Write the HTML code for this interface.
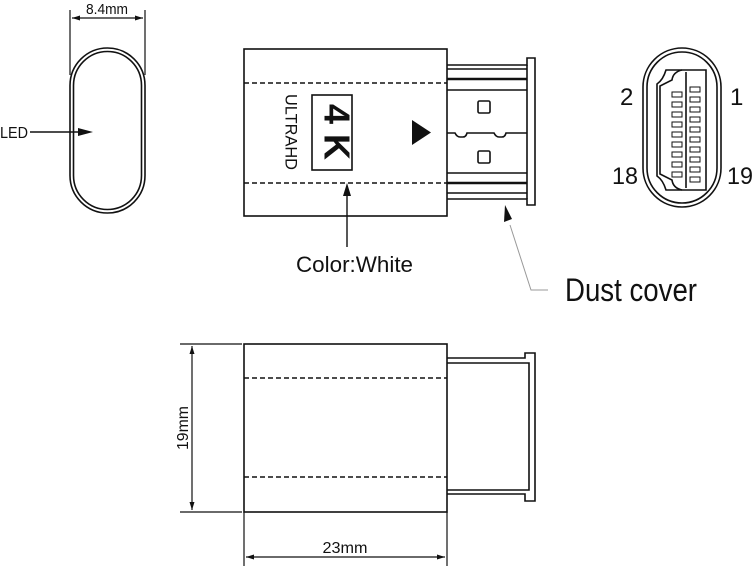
<!DOCTYPE html>
<html><head><meta charset="utf-8"><style>html,body{margin:0;padding:0;background:#fff}svg{display:block}</style></head><body>
<svg width="753" height="568" viewBox="0 0 753 568" xmlns="http://www.w3.org/2000/svg" font-family="'Liberation Sans Narrow','Liberation Sans',sans-serif">
<g fill="none" stroke="#111" stroke-width="1.6">
<!-- left oval -->
<rect x="70" y="48" width="75" height="165" rx="37.5"/>
<rect x="73.5" y="51.5" width="68" height="158" rx="34"/>
<line x1="70" y1="10" x2="70" y2="75" stroke-width="1.2"/>
<line x1="145" y1="10" x2="145" y2="75" stroke-width="1.2"/>
<line x1="72" y1="18" x2="143" y2="18" stroke-width="1.2"/>
<line x1="30" y1="132" x2="80" y2="132" stroke-width="1.4"/>
<!-- top body -->
<rect x="244" y="49" width="203" height="167"/>
<line x1="244" y1="83" x2="447" y2="83" stroke-dasharray="5,3"/>
<line x1="244" y1="183" x2="447" y2="183" stroke-dasharray="5,3"/>
<rect x="312" y="95" width="40" height="75"/>
<path d="M447 65 H527 V58 H535 V205 H527 V199 H447"/>
<line x1="447" y1="69" x2="527" y2="69"/>
<line x1="447" y1="79" x2="527" y2="79" stroke-width="2.6"/>
<line x1="447" y1="90" x2="527" y2="90"/>
<line x1="447" y1="173" x2="527" y2="173"/>
<line x1="447" y1="183" x2="527" y2="183" stroke-width="2.6"/>
<line x1="447" y1="193" x2="527" y2="193"/>
<line x1="527" y1="65" x2="527" y2="199"/>
<path d="M447 133 H455 Q457 137 460 137 H463 Q466 137 467 133 H494 Q496 137 499 137 H502 Q505 137 506 133 H527"/>
<rect x="478" y="101" width="12" height="12" rx="1.5"/>
<rect x="478" y="151" width="12" height="12" rx="1.5"/>
<line x1="347" y1="247" x2="347" y2="190" stroke-width="1.4"/>
<!-- right connector -->
<rect x="643" y="48" width="78" height="159" rx="39"/>
<rect x="647" y="52" width="70" height="151" rx="35"/>
<path d="M666 70 H706 V190 H666 Q663 180 657 176 V84 Q663 80 666 70 Z"/>
<path d="M682 70 Q673 72 672 80 L660 86 V174 L672 180 Q673 188 682 190"/>
<line x1="686" y1="72" x2="686" y2="188"/>
<!-- bottom view -->
<rect x="244" y="344" width="203" height="168"/>
<line x1="244" y1="378" x2="447" y2="378" stroke-dasharray="5,3"/>
<line x1="244" y1="477" x2="447" y2="477" stroke-dasharray="5,3"/>
<path d="M447 358 H525 V353 H535 V501 H525 V494 H447"/>
<path d="M447 363 H529 V490 H447"/>
<line x1="180" y1="344" x2="242" y2="344" stroke-width="1.2"/>
<line x1="180" y1="512" x2="242" y2="512" stroke-width="1.2"/>
<line x1="192" y1="346" x2="192" y2="510" stroke-width="1.2"/>
<line x1="244" y1="512" x2="244" y2="566" stroke-width="1.2"/>
<line x1="447" y1="512" x2="447" y2="566" stroke-width="1.2"/>
<line x1="246" y1="557" x2="445" y2="557" stroke-width="1.2"/>
<polyline points="510,225 531,290 548,290" stroke="#999" stroke-width="1"/>
</g>
<g fill="#111">
<polygon points="72,18 80,15.5 80,20.5"/><polygon points="143,18 135,15.5 135,20.5"/>
<polygon points="93,132 78,128 78,136"/>
<polygon points="347,183 343,196 351,196"/>
<polygon points="412,120 431,132.5 412,145"/>
<polygon points="505,205 504,222 512,219"/>
<polygon points="192,346 189.5,354 194.5,354"/><polygon points="192,510 189.5,502 194.5,502"/>
<polygon points="246,557 254,554.5 254,559.5"/><polygon points="445,557 437,554.5 437,559.5"/>
<!-- pins -->
<g stroke="#111" stroke-width="1" fill="#fff">
<rect x="672" y="92" width="10" height="5"/><rect x="672" y="102" width="10" height="5"/><rect x="672" y="112" width="10" height="5"/><rect x="672" y="122" width="10" height="5"/><rect x="672" y="132" width="10" height="5"/><rect x="672" y="142" width="10" height="5"/><rect x="672" y="152" width="10" height="5"/><rect x="672" y="162" width="10" height="5"/><rect x="672" y="172" width="10" height="5"/>
<rect x="690" y="87" width="10" height="5"/><rect x="690" y="97" width="10" height="5"/><rect x="690" y="107" width="10" height="5"/><rect x="690" y="117" width="10" height="5"/><rect x="690" y="127" width="10" height="5"/><rect x="690" y="137" width="10" height="5"/><rect x="690" y="147" width="10" height="5"/><rect x="690" y="157" width="10" height="5"/><rect x="690" y="167" width="10" height="5"/><rect x="690" y="177" width="10" height="5"/>
</g>
<text x="107" y="14" font-size="15" text-anchor="middle" textLength="42" lengthAdjust="spacingAndGlyphs">8.4mm</text>
<text x="0" y="138" font-size="16" textLength="28" lengthAdjust="spacingAndGlyphs">LED</text>
<text transform="translate(334,132) rotate(90)" font-size="36" font-weight="bold" text-anchor="middle" dominant-baseline="middle" font-family="'Liberation Sans',sans-serif">4 K</text>
<text transform="translate(290,132) rotate(90)" font-size="17" text-anchor="middle" dominant-baseline="middle" textLength="76" lengthAdjust="spacingAndGlyphs">ULTRAHD</text>
<text x="296" y="272" font-size="22" textLength="117" lengthAdjust="spacingAndGlyphs">Color:White</text>
<text x="565" y="301" font-size="32" textLength="132" lengthAdjust="spacingAndGlyphs">Dust cover</text>
<text x="620" y="105" font-size="24">2</text>
<text x="730" y="105" font-size="24">1</text>
<text x="612" y="184" font-size="24" textLength="26" lengthAdjust="spacingAndGlyphs">18</text>
<text x="727" y="184" font-size="24" textLength="26" lengthAdjust="spacingAndGlyphs">19</text>
<text transform="translate(188,428) rotate(-90)" font-size="16" text-anchor="middle" textLength="44" lengthAdjust="spacingAndGlyphs">19mm</text>
<text x="345" y="553" font-size="16" text-anchor="middle" textLength="45" lengthAdjust="spacingAndGlyphs">23mm</text>
</g>
</svg>
</body></html>
